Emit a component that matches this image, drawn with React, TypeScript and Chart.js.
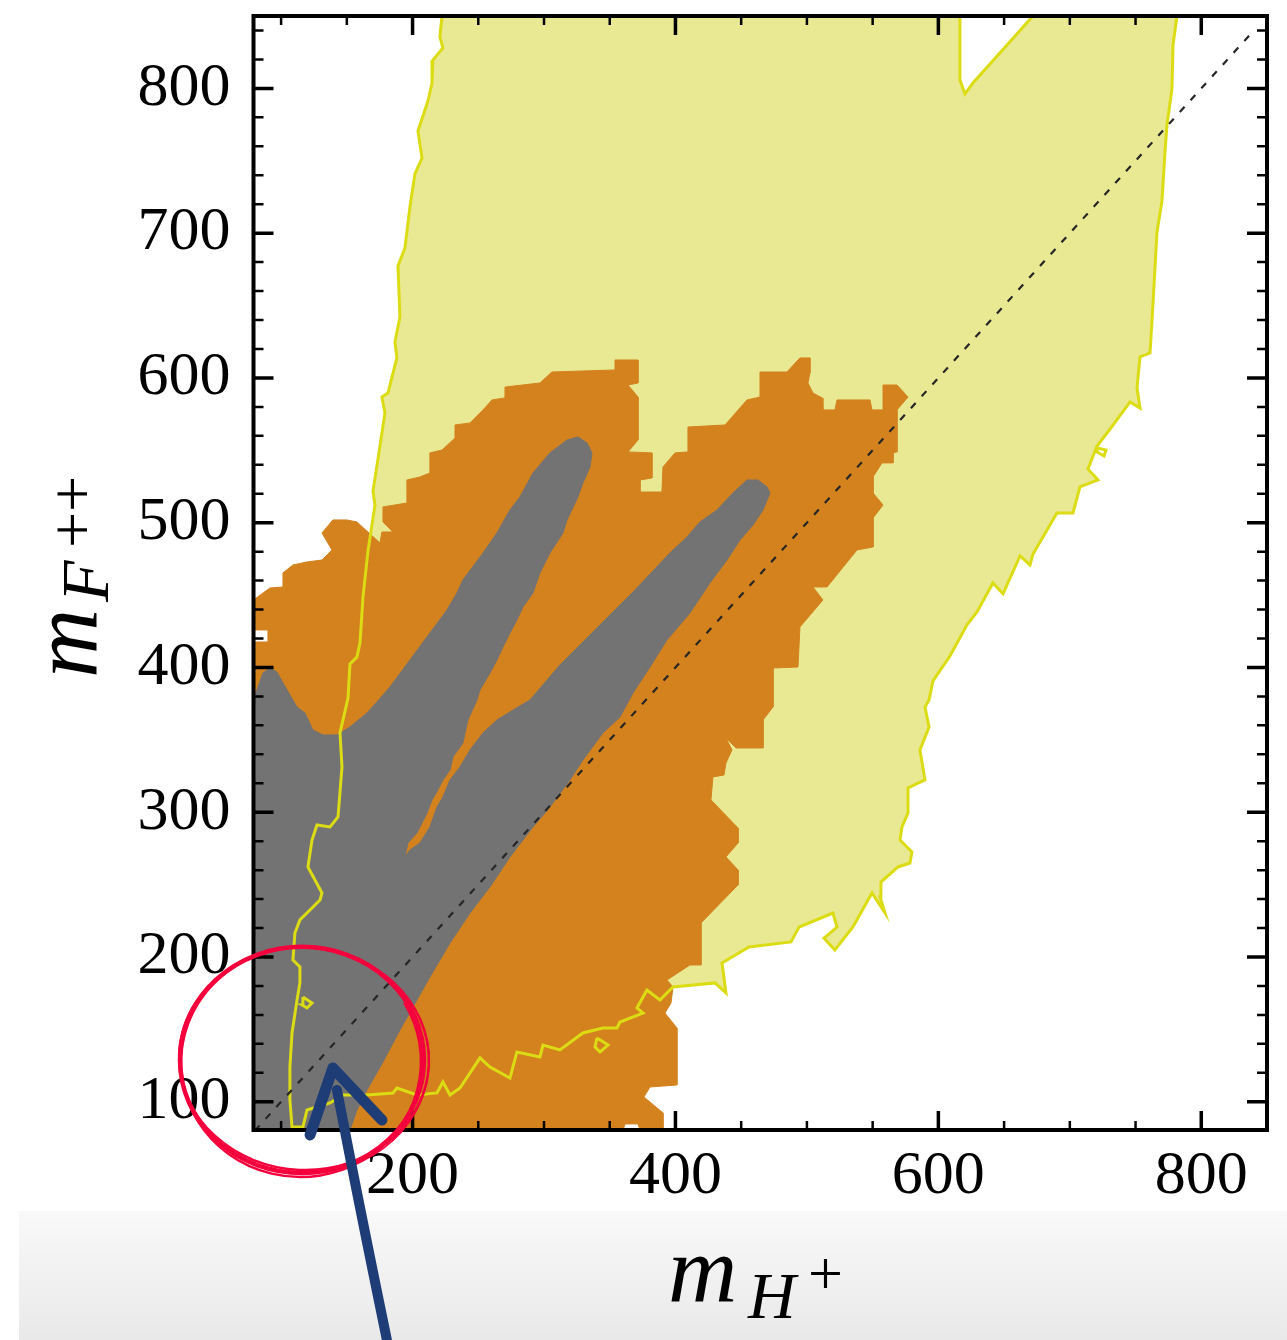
import React, { useEffect, useRef } from 'react';
import { Chart, registerables } from 'chart.js';

Chart.register(...registerables);

// ---- axes ----
const X_MIN = 79;
const X_MAX = 850;
const Y_MIN = 80.5;
const Y_MAX = 850;
const X_TICK_LABELS = [200, 400, 600, 800];
const Y_TICK_LABELS = [100, 200, 300, 400, 500, 600, 700, 800];
const X_MINOR_TICKS = [100, 150, 200, 250, 300, 350, 400, 450, 500, 550, 600, 650, 700, 750, 800];
const Y_MINOR_TICKS = [100, 120, 140, 160, 180, 200, 220, 240, 260, 280, 300, 320, 340, 360, 380, 400, 420, 440, 460, 480, 500, 520, 540, 560, 580, 600, 620, 640, 660, 680, 700, 720, 740, 760, 780, 800, 820, 840];

// ---- regions (m_H+, m_F++) ----
const YELLOW_REGION: [number, number][] = [
  [222.4, 850], [220.8, 835.5], [223.1, 827.9], [215.5, 819.6], [214.8, 803.7], [211.7, 791.3], [204.1, 770.6], [207.2, 751.9],
  [201.8, 740.9], [198.0, 718.1], [194.2, 689.8], [188.9, 677.3], [190.4, 642.1], [186.6, 624.8], [188.1, 613.8], [181.3, 589.6],
  [176.7, 586.8], [179.0, 575.8], [173.7, 544.0], [169.9, 521.9], [171.4, 512.2], [166.1, 480.5], [162.3, 448.7], [160.0, 416.9],
  [157.7, 407.2], [152.4, 402.4], [150.9, 378.9], [144.8, 354.8], [146.3, 331.3], [143.3, 296.7], [137.2, 289.8], [127.3, 291.2],
  [123.5, 280.8], [120.4, 262.2], [131.1, 244.2], [129.6, 239.4], [114.3, 225.6], [110.5, 216.6], [109.0, 197.9], [114.3, 193.1],
  [114.3, 182.1], [112.1, 170.3], [108.3, 147.5], [106.7, 124.0], [106.7, 101.2], [108.3, 82.6], [116.6, 82.6], [119.7, 94.3],
  [137.2, 99.2], [147.1, 104.7], [165.3, 104.7], [185.1, 106.1], [188.1, 109.5], [203.3, 104.7], [218.6, 106.1], [223.1, 113.7],
  [228.5, 104.7], [236.1, 109.5], [251.3, 130.3], [258.9, 124.0], [274.1, 116.4], [279.4, 134.4], [296.9, 130.9], [299.2, 139.2],
  [312.1, 135.8], [329.6, 147.5], [344.8, 151.0], [355.5, 151.0], [357.8, 155.1], [375.3, 161.3], [370.7, 164.8], [378.3, 177.2],
  [388.2, 170.3], [398.1, 179.3], [430.1, 182.1], [438.4, 175.2], [435.4, 195.9], [455.9, 206.9], [487.9, 210.4], [494.0, 220.7],
  [519.8, 230.4], [522.9, 220.7], [513.0, 213.1], [521.3, 204.9], [535.0, 220.7], [549.5, 244.2], [559.4, 230.4], [555.6, 241.5],
  [556.3, 251.8], [569.3, 262.2], [578.4, 264.9], [579.9, 272.5], [570.8, 280.8], [572.3, 289.8], [576.9, 299.5], [576.9, 316.8],
  [589.8, 322.3], [586.0, 343.0], [592.9, 358.9], [589.8, 372.7], [592.9, 377.5], [595.9, 390.7], [608.8, 407.9], [621.8, 429.4],
  [629.4, 438.3], [641.5, 458.4], [649.2, 450.8], [652.2, 457.0], [662.1, 477.0], [669.7, 470.8], [672.0, 478.4], [690.2, 506.7],
  [702.4, 506.7], [707.7, 524.7], [721.4, 529.5], [713.8, 537.1], [720.7, 553.0], [730.6, 564.7], [745.8, 583.4], [753.4, 579.2],
  [751.1, 593.1], [753.4, 614.5], [761.0, 617.2], [762.5, 639.3], [764.8, 675.9], [766.3, 700.8], [770.1, 722.2], [772.4, 756.1],
  [773.9, 774.7], [777.7, 799.6], [778.5, 830.0], [781.5, 850], [672.0, 850], [626.3, 803.7], [620.2, 796.2], [616.4, 805.8],
  [616.4, 850], [222.4, 850],
];

const ORANGE_REGION: [number, number][] = [
  [79, 446.6], [91.5, 454.9], [101.4, 455.6], [101.4, 465.3], [109.0, 470.8], [119.7, 472.9], [131.1, 474.2], [138.7, 481.2],
  [131.1, 492.9], [139.4, 501.9], [150.1, 501.9], [157.7, 500.5], [175.2, 486.0], [176.7, 493.6], [185.1, 493.6], [177.5, 500.5],
  [177.5, 510.9], [195.7, 513.6], [195.7, 529.5], [205.6, 531.6], [213.2, 534.3], [213.2, 548.2], [222.4, 550.2], [232.3, 558.5],
  [232.3, 567.5], [243.7, 568.9], [253.6, 577.9], [260.4, 584.8], [270.3, 586.2], [270.3, 593.7], [296.9, 596.5], [306.0, 604.1],
  [354.0, 605.5], [354.0, 612.4], [371.5, 612.4], [371.5, 596.5], [363.9, 595.1], [371.5, 586.8], [371.5, 557.1], [363.9, 548.9],
  [382.1, 548.2], [382.1, 530.9], [373.0, 529.5], [373.0, 521.2], [389.7, 521.2], [390.5, 538.5], [399.6, 548.2], [409.5, 548.9],
  [409.5, 566.1], [437.7, 567.5], [454.4, 584.8], [464.3, 586.8], [464.3, 604.1], [484.8, 604.1], [494.7, 613.8], [502.3, 613.8],
  [502.3, 603.4], [500.8, 596.5], [504.6, 589.6], [511.5, 586.2], [512.2, 577.9], [521.3, 577.9], [522.9, 584.8], [548.0, 584.8],
  [549.5, 577.9], [557.9, 577.9], [557.9, 595.1], [568.5, 595.1], [576.9, 586.8], [568.5, 577.9], [568.5, 548.9], [565.5, 548.2],
  [565.5, 541.3], [557.1, 541.3], [550.3, 531.6], [550.3, 520.5], [557.9, 512.2], [550.3, 503.3], [550.3, 483.2], [538.1, 481.2],
  [515.3, 455.6], [504.6, 455.6], [512.2, 446.6], [494.7, 428.0], [493.2, 400.3], [474.2, 399.6], [474.2, 372.7], [466.6, 363.7],
  [466.6, 344.4], [446.0, 344.4], [438.4, 351.3], [443.0, 343.0], [438.4, 334.0], [436.9, 325.7], [428.5, 324.4], [427.0, 308.5],
  [447.6, 289.1], [447.6, 278.8], [438.4, 269.1], [447.6, 260.1], [447.6, 249.8], [419.4, 223.5], [419.4, 194.5], [411.0, 194.5],
  [393.5, 184.1], [398.1, 179.3], [396.6, 168.2], [392.0, 161.3], [401.1, 151.0], [401.1, 111.6], [380.6, 110.2], [376.0, 103.3],
  [390.5, 92.3], [390.5, 80.5], [373.0, 80.5], [371.5, 84.7], [361.6, 84.7], [360.1, 80.5], [79, 80.5], [79, 417.6],
  [90.0, 417.6], [90.0, 425.9], [79, 425.9], [79, 446.6],
];

const GRAY_REGION: [number, number][] = [
  [79, 80.5], [152.4, 80.5], [157.7, 94.3], [165.3, 108.2], [177.5, 127.5], [190.4, 149.6], [203.3, 170.3], [213.2, 186.2],
  [228.5, 209.7], [243.7, 230.4], [258.9, 248.4], [274.1, 269.1], [291.6, 289.8], [304.5, 303.6], [319.7, 322.3], [329.6, 336.1],
  [344.8, 354.8], [357.8, 365.8], [367.7, 382.4], [380.6, 400.3], [393.5, 419.0], [411.0, 437.6], [426.2, 458.4], [439.2, 474.2],
  [449.1, 488.1], [459.0, 498.4], [466.6, 508.8], [471.9, 520.5], [469.6, 524.7], [462.8, 529.5], [454.4, 529.5], [443.7, 520.5],
  [431.6, 508.8], [418.6, 500.5], [408.8, 490.1], [395.8, 479.1], [369.2, 453.5], [342.6, 429.4], [312.1, 401.7], [289.3, 377.5],
  [276.4, 370.6], [264.2, 363.7], [253.6, 354.8], [243.7, 343.0], [236.1, 331.3], [228.5, 322.3], [223.1, 310.5], [218.6, 303.6],
  [213.2, 289.8], [205.6, 278.8], [198.0, 273.9], [194.2, 269.1], [196.5, 278.8], [203.3, 285.7], [207.2, 292.6], [211.0, 299.5],
  [214.8, 308.5], [219.3, 315.4], [223.1, 322.3], [228.5, 329.2], [230.7, 338.2], [238.3, 347.8], [242.1, 363.7], [249.0, 377.5],
  [251.3, 384.5], [258.9, 396.2], [264.2, 405.2], [268.8, 414.2], [274.1, 423.8], [279.4, 432.8], [284.0, 441.8], [291.6, 451.5],
  [296.9, 465.3], [304.5, 479.1], [314.4, 492.9], [317.5, 501.9], [325.8, 517.8], [329.6, 527.4], [335.0, 538.5], [336.5, 548.2],
  [332.7, 555.1], [325.8, 559.2], [317.5, 557.1], [304.5, 548.2], [291.6, 534.3], [281.7, 517.8], [274.1, 508.8], [264.2, 492.9],
  [253.6, 479.1], [238.3, 460.4], [233.8, 451.5], [226.2, 439.7], [213.2, 423.8], [198.0, 405.2], [182.8, 386.5], [172.9, 376.2],
  [165.3, 368.6], [152.4, 358.9], [142.5, 353.4], [131.8, 353.4], [124.2, 356.8], [118.1, 368.6], [112.1, 372.7], [104.5, 384.5],
  [96.8, 396.9], [91.5, 399.6], [86.2, 396.2], [81.6, 384.5], [79, 377.5], [79, 80.5],
];

const YELLOW_LOOP_A: [number, number][] = [[116.6, 172.4], [123.5, 168.2], [119.7, 164.8], [115.9, 166.9], [116.6, 172.4]];
const YELLOW_LOOP_B: [number, number][] = [[340.3, 144.1], [348.7, 139.2], [342.6, 134.4], [338.8, 137.9], [340.3, 144.1]];
const YELLOW_LOOP_C: [number, number][] = [[720.7, 551.6], [727.5, 550.2], [726.0, 546.1], [720.7, 548.9], [720.7, 551.6]];

const DIAGONAL: [number, number][] = [[80, 80], [840, 840]];

// ---- hand-drawn annotations (data units) ----
const CIRCLE_MARK = { x: 115.9, y: 128.9, rx: 92.8, ry: 78.1 };
const ARROW_TIP: [number, number] = [139.4, 123.3];
const ARROW_LEFT_WING: [number, number] = [122.0, 77.1];
const ARROW_RIGHT_WING: [number, number] = [176.7, 87.4];
const ARROW_SHAFT: [number, number][] = [[142.5, 108.2], [158.5, 32.2], [180.5, -64.5]];

const COLORS = {
  yellowFill: '#e9e994',
  yellowLine: '#dcdc14',
  orange: '#d3821e',
  gray: '#737373',
  dash: '#262626',
  red: '#f4003c',
  blue: '#1e3c76',
};

const toXY = (pts: [number, number][]) => pts.map(([x, y]) => ({ x, y }));

const polygon = (pts: [number, number][], fillColor: string, order: number) => ({
  data: toXY(pts),
  showLine: true,
  fill: 'shape',
  backgroundColor: fillColor,
  borderColor: fillColor,
  borderWidth: 1,
  pointRadius: 0,
  pointHoverRadius: 0,
  tension: 0,
  order,
});

const outline = (pts: [number, number][], order: number) => ({
  data: toXY(pts),
  showLine: true,
  fill: false,
  backgroundColor: 'transparent',
  borderColor: COLORS.yellowLine,
  borderWidth: 3,
  pointRadius: 0,
  pointHoverRadius: 0,
  tension: 0,
  order,
});

const backgroundPlugin = {
  id: 'bgBand',
  beforeDraw(chart: any) {
    const { ctx } = chart;
    ctx.save();
    const g = ctx.createLinearGradient(0, 1210, 0, 1340);
    g.addColorStop(0, '#f9f9f9');
    g.addColorStop(1, '#e9e9e9');
    ctx.fillStyle = g;
    ctx.fillRect(19, 1211, 1287 - 19, 1340 - 1211);
    ctx.restore();
  },
};

const frameTicksPlugin = {
  id: 'frameTicks',
  afterDatasetsDraw(chart: any) {
    const { ctx, chartArea } = chart;
    const { left, right, top, bottom } = chartArea;
    const xs = chart.scales.x;
    const ys = chart.scales.y;
    ctx.save();
    ctx.strokeStyle = '#000';
    ctx.lineCap = 'butt';
    X_MINOR_TICKS.forEach((v) => {
      const px = xs.getPixelForValue(v);
      const major = X_TICK_LABELS.includes(v);
      const len = major ? 19 : 9;
      ctx.lineWidth = major ? 3.5 : 2.5;
      ctx.beginPath();
      ctx.moveTo(px, bottom);
      ctx.lineTo(px, bottom - len);
      ctx.moveTo(px, top);
      ctx.lineTo(px, top + len);
      ctx.stroke();
    });
    Y_MINOR_TICKS.forEach((v) => {
      const py = ys.getPixelForValue(v);
      const major = Y_TICK_LABELS.includes(v);
      const len = major ? 20 : 10;
      ctx.lineWidth = major ? 3.5 : 2.5;
      ctx.beginPath();
      ctx.moveTo(left, py);
      ctx.lineTo(left + len, py);
      ctx.moveTo(right, py);
      ctx.lineTo(right - len, py);
      ctx.stroke();
    });
    ctx.lineWidth = 4;
    ctx.strokeRect(left, top, right - left, bottom - top);
    ctx.restore();
  },
};

const overlayPlugin = {
  id: 'overlay',
  afterDraw(chart: any) {
    const { ctx } = chart;
    const xs = chart.scales.x;
    const ys = chart.scales.y;
    const P = (p: [number, number]) => [xs.getPixelForValue(p[0]), ys.getPixelForValue(p[1])];

    // axis titles
    ctx.save();
    ctx.fillStyle = '#000';
    ctx.textBaseline = 'alphabetic';
    ctx.textAlign = 'left';
    ctx.font = 'italic 96px "Liberation Serif", serif';
    ctx.fillText('m', 668, 1302);
    ctx.font = 'italic 66px "Liberation Serif", serif';
    ctx.fillText('H', 748, 1318);
    ctx.font = '62px "Liberation Serif", serif';
    ctx.fillText('+', 808, 1294);

    const rot = (txt: string, font: string, x: number, y: number) => {
      ctx.save();
      ctx.translate(x, y);
      ctx.rotate(-Math.PI / 2);
      ctx.font = font;
      ctx.fillText(txt, 0, 0);
      ctx.restore();
    };
    rot('m', 'italic 96px "Liberation Serif", serif', 97, 678);
    rot('F', 'italic 68px "Liberation Serif", serif', 108, 602);
    rot('++', '64px "Liberation Serif", serif', 94, 548);
    ctx.restore();

    // red hand-drawn circle
    const [cx, cy] = P([CIRCLE_MARK.x, CIRCLE_MARK.y]);
    const rx = Math.abs(xs.getPixelForValue(CIRCLE_MARK.x + CIRCLE_MARK.rx) - cx);
    const ry = Math.abs(ys.getPixelForValue(CIRCLE_MARK.y + CIRCLE_MARK.ry) - cy);
    ctx.save();
    ctx.strokeStyle = COLORS.red;
    const ell = (dx: number, dy: number, drx: number, dry: number, r: number, lw: number, a0: number, a1: number) => {
      ctx.beginPath();
      ctx.lineWidth = lw;
      ctx.ellipse(cx + dx, cy + dy, rx + drx, ry + dry, r, a0, a1);
      ctx.stroke();
    };
    ell(0, 0, 0, 0, 0, 4.5, 0, Math.PI * 2);
    ell(2, -1, 3, -2, 0.05, 2.5, -1.2, 4.3);
    ell(-1, 2, -2, 2, -0.04, 2.5, -0.5, 5.2);
    ell(1, 1, 4, 0, 0.02, 1.5, -1.8, 1.4);
    ctx.restore();

    // blue hand-drawn arrow
    ctx.save();
    ctx.strokeStyle = COLORS.blue;
    ctx.lineCap = 'round';
    ctx.lineJoin = 'round';
    ctx.lineWidth = 10;
    const [s0x, s0y] = P(ARROW_SHAFT[0]);
    const [s1x, s1y] = P(ARROW_SHAFT[1]);
    const [s2x, s2y] = P(ARROW_SHAFT[2]);
    ctx.beginPath();
    ctx.moveTo(s2x, s2y);
    ctx.quadraticCurveTo(s1x, s1y, s0x, s0y);
    ctx.stroke();
    const [lx, ly] = P(ARROW_LEFT_WING);
    const [tx, ty] = P(ARROW_TIP);
    const [rxx, ryy] = P(ARROW_RIGHT_WING);
    ctx.lineWidth = 11;
    ctx.beginPath();
    ctx.moveTo(lx, ly);
    ctx.lineTo(tx, ty);
    ctx.lineTo(rxx, ryy);
    ctx.stroke();
    ctx.restore();
  },
};

export default function App() {
  const ref = useRef<HTMLCanvasElement>(null);
  useEffect(() => {
    if (!ref.current) return;
    const chart = new Chart(ref.current, {
      type: 'scatter',
      data: {
        datasets: [
          {
            data: toXY(DIAGONAL),
            showLine: true,
            fill: false,
            borderColor: COLORS.dash,
            borderWidth: 2.2,
            borderDash: [7, 9],
            pointRadius: 0,
            pointHoverRadius: 0,
            order: 0,
          } as any,
          outline(YELLOW_LOOP_A, 1) as any,
          outline(YELLOW_LOOP_B, 1) as any,
          outline(YELLOW_LOOP_C, 1) as any,
          outline(YELLOW_REGION, 2) as any,
          polygon(GRAY_REGION, COLORS.gray, 3) as any,
          polygon(ORANGE_REGION, COLORS.orange, 4) as any,
          polygon(YELLOW_REGION, COLORS.yellowFill, 5) as any,
        ],
      },
      options: {
        responsive: false,
        animation: false,
        events: [],
        layout: { padding: { top: 16, right: 20, left: 0, bottom: 0 } },
        plugins: { legend: { display: false }, tooltip: { enabled: false }, title: { display: false } },
        scales: {
          x: {
            type: 'linear',
            position: 'bottom',
            min: X_MIN,
            max: X_MAX,
            grid: { display: false, drawTicks: false },
            border: { display: false },
            ticks: {
              autoSkip: false,
              maxRotation: 0,
              padding: 10,
              color: '#000',
              font: { family: '"Liberation Serif", serif', size: 62 },
              callback: (v: any) => String(v),
            },
            afterBuildTicks: (s: any) => {
              s.ticks = X_TICK_LABELS.map((value) => ({ value }));
            },
            afterFit: (s: any) => {
              s.height = 210;
              s.paddingLeft = 0;
              s.paddingRight = 0;
            },
          },
          y: {
            type: 'linear',
            position: 'left',
            min: Y_MIN,
            max: Y_MAX,
            grid: { display: false, drawTicks: false },
            border: { display: false },
            ticks: {
              autoSkip: false,
              padding: 23,
              color: '#000',
              font: { family: '"Liberation Serif", serif', size: 62 },
              callback: (v: any) => String(v),
            },
            afterBuildTicks: (s: any) => {
              s.ticks = Y_TICK_LABELS.map((value) => ({ value }));
            },
            afterFit: (s: any) => {
              s.width = 253.5;
              s.paddingTop = 0;
              s.paddingBottom = 0;
            },
          },
        },
      } as any,
      plugins: [backgroundPlugin, frameTicksPlugin, overlayPlugin],
    });
    return () => chart.destroy();
  }, []);

  return (
    <div style={{ position: 'absolute', left: 0, top: 0, width: 1287, height: 1340, background: '#fff' }}>
      <canvas ref={ref} width={1287} height={1340} style={{ display: 'block' }} />
    </div>
  );
}
